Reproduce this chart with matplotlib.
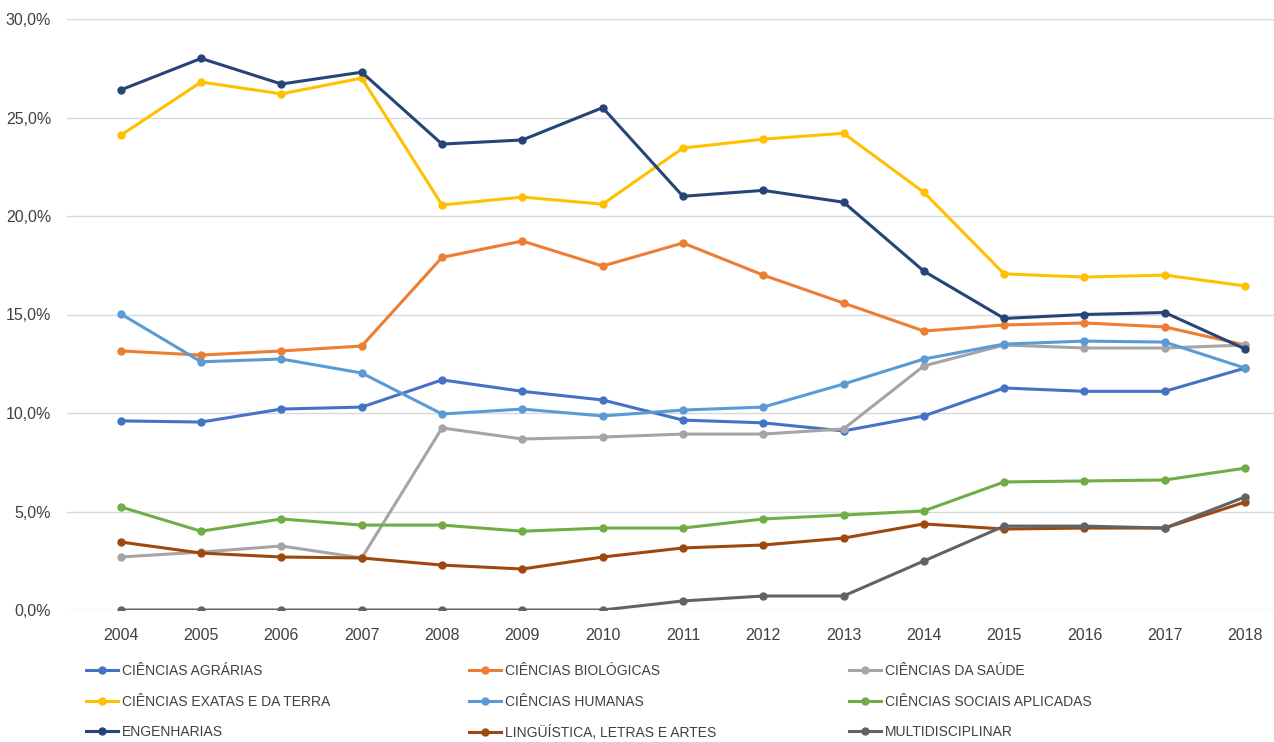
import matplotlib.pyplot as plt
from matplotlib.ticker import FuncFormatter

plt.rcParams['font.family'] = ['Liberation Sans', 'DejaVu Sans']

anos = list(range(2004, 2019))

agrarias = [9.6, 9.54, 10.2, 10.3, 11.68, 11.1, 10.66, 9.64, 9.5, 9.09, 9.85, 11.27, 11.1, 11.1, 12.28]
biologicas = [13.15, 12.94, 13.15, 13.4, 17.9, 18.73, 17.46, 18.63, 17.0, 15.58, 14.16, 14.47, 14.57, 14.37, 13.45]
saude = [2.69, 2.94, 3.25, 2.64, 9.24, 8.68, 8.78, 8.93, 8.93, 9.19, 12.39, 13.45, 13.3, 13.3, 13.45]
exatas = [24.1, 26.8, 26.2, 27.0, 20.56, 20.96, 20.6, 23.45, 23.9, 24.2, 21.2, 17.06, 16.9, 17.0, 16.45]
humanas = [15.03, 12.6, 12.74, 12.03, 9.95, 10.2, 9.85, 10.15, 10.3, 11.47, 12.74, 13.5, 13.65, 13.6, 12.28]
sociais = [5.23, 4.0, 4.62, 4.31, 4.31, 4.0, 4.16, 4.16, 4.62, 4.82, 5.03, 6.5, 6.55, 6.6, 7.2]
engenharias = [26.4, 28.0, 26.7, 27.3, 23.65, 23.86, 25.5, 21.0, 21.3, 20.7, 17.2, 14.8, 15.0, 15.1, 13.25]
linguistica = [3.45, 2.89, 2.69, 2.64, 2.28, 2.08, 2.69, 3.15, 3.3, 3.65, 4.37, 4.11, 4.16, 4.16, 5.48]
multi = [0, 0, 0, 0, 0, 0, 0, 0.46, 0.71, 0.71, 2.49, 4.26, 4.26, 4.16, 5.74]

series = [
    ('CIÊNCIAS AGRÁRIAS', agrarias, '#4472C4'),
    ('CIÊNCIAS BIOLÓGICAS', biologicas, '#ED7D31'),
    ('CIÊNCIAS DA SAÚDE', saude, '#A5A5A5'),
    ('CIÊNCIAS EXATAS E DA TERRA', exatas, '#FFC000'),
    ('CIÊNCIAS HUMANAS', humanas, '#5B9BD5'),
    ('CIÊNCIAS SOCIAIS APLICADAS', sociais, '#70AD47'),
    ('ENGENHARIAS', engenharias, '#264478'),
    ('LINGÜÍSTICA, LETRAS E ARTES', linguistica, '#9E480E'),
    ('MULTIDISCIPLINAR', multi, '#636363'),
]

fig = plt.figure(figsize=(12.74, 7.42), dpi=100)
ax = fig.add_axes([67/1274, 1 - 610/742, 1 - 67/1274, (610 - 19)/742])

handles = []
for nome, vals, cor in series:
    h, = ax.plot(anos, vals, color=cor, lw=2.2, marker='o', ms=5, label=nome)
    handles.append(h)

ax.set_ylim(0, 30)
ax.set_xlim(2003.33, 2018.36)
ax.set_yticks([0, 5, 10, 15, 20, 25, 30])
ax.yaxis.set_major_formatter(FuncFormatter(lambda v, p: ('%.1f%%' % v).replace('.', ',')))
ax.set_xticks(anos)
ax.grid(axis='y', color='#D9D9D9', lw=1)
ax.set_axisbelow(True)
for s in ax.spines.values():
    s.set_visible(False)
ax.tick_params(length=0, labelsize=11.5, colors='#404040')
ax.tick_params(axis='x', pad=13)
ax.tick_params(axis='y', pad=11.5)

# legenda em 3 colunas, preenchida por linha
xs = [86/1274, 469/1274, 849/1274]
for c in range(3):
    hs = [handles[c + 3*r] for r in range(3)]
    leg = fig.legend(handles=hs, loc='upper left', bbox_to_anchor=(xs[c], 1 - 664/742),
                     frameon=False, fontsize=10, handlelength=2.3, handletextpad=0.3,
                     labelspacing=1.2, borderaxespad=0, borderpad=0)
    for t in leg.get_texts():
        t.set_color('#404040')

fig.savefig('out.png', dpi=100)
